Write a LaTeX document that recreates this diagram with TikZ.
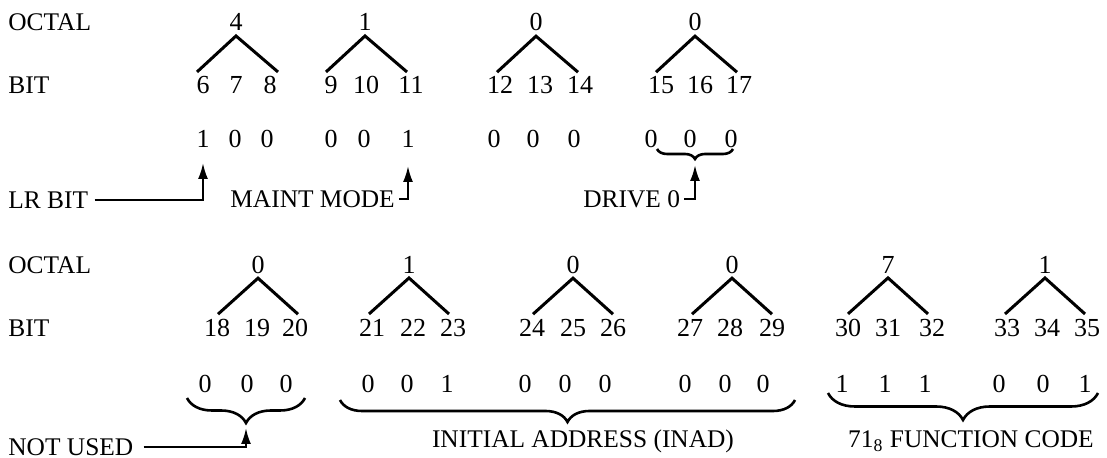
\documentclass[tikz,border=0pt]{standalone}
\usepackage{fontspec}
\setmainfont{Liberation Serif}
\usepackage{tikz}
\usetikzlibrary{arrows.meta,calc,decorations.pathreplacing}
\tikzset{
  lbl/.style={inner sep=0pt, anchor=west, font=\fontsize{12.7}{15}\selectfont},
  dig/.style={inner sep=0pt, font=\fontsize{13}{15}\selectfont},
  tree/.style={line width=1.5pt},
  arr/.style={-{Latex[length=8pt,width=5pt]}, line width=1.1pt},
  brc/.style={decorate, decoration={brace, mirror, amplitude=#1}, line width=1.3pt},
}

\begin{document}
\begin{tikzpicture}[x=0.5pt, y=-0.5pt]
  \useasboundingbox (0,0) rectangle (1107,458);
  % row 1: bits 6-17
  \node[lbl] (oct1) at (8,22) {OCTAL};
  \node[lbl] (bit1) at (8,85) {BIT};
  \node[dig] (o1) at (236,22) {4}; \node[dig] (o2) at (365,22) {1}; \node[dig] (o3) at (536,22) {0}; \node[dig] (o4) at (695,22) {0};
  \node[dig] (b6) at (203,85) {6}; \node[dig] (b7) at (236,85) {7}; \node[dig] (b8) at (270,85) {8};
  \node[dig] (b9) at (331,85) {9}; \node[dig] (b10) at (366,85) {10}; \node[dig] (b11) at (411,85) {11};
  \node[dig] (b12) at (500,85) {12}; \node[dig] (b13) at (540,85) {13}; \node[dig] (b14) at (580,85) {14};
  \node[dig] (b15) at (661,85) {15}; \node[dig] (b16) at (700,85) {16}; \node[dig] (b17) at (739,85) {17};
  \node[dig] (v6) at (203,139) {1}; \node[dig] (v7) at (235,139) {0}; \node[dig] (v8) at (267,139) {0};
  \node[dig] (v9) at (331,139) {0}; \node[dig] (v10) at (364,139) {0}; \node[dig] (v11) at (408,139) {1};
  \node[dig] (v12) at (494,139) {0}; \node[dig] (v13) at (533,139) {0}; \node[dig] (v14) at (574,139) {0};
  \node[dig] (v15) at (651,139) {0}; \node[dig] (v16) at (690,139) {0}; \node[dig] (v17) at (731,139) {0};
  \foreach \o in {o1,o2,o3,o4}
    \draw[tree] ($(\o.south)+(-39,41)$) -- ($(\o.south)+(0,5)$) -- ($(\o.south)+(42,41)$);
  \node[lbl] (lrbit) at (8,200) {LR BIT};
  \node[lbl] (maint) at (230,199) {MAINT MODE};
  \node[lbl] (drive) at (583,199) {DRIVE 0};
  \draw[brc=5pt] (657,149) -- (733,149);
  \coordinate (drvtip) at (695,159);
  \draw[arr, shorten >=7.5pt] ([xshift=3pt]lrbit.east) -| (v6.south);
  \draw[arr, shorten >=9pt] ([xshift=2pt]maint.east) -| (v11.south);
  \draw[arr, shorten >=3pt] ([xshift=2pt]drive.east) -| (drvtip);
  % row 2: bits 18-35
  \node[lbl] (oct2) at (8,265) {OCTAL};
  \node[lbl] (bit2) at (8,328) {BIT};
  \node[dig] (o5) at (258,265) {0}; \node[dig] (o6) at (409,265) {1}; \node[dig] (o7) at (573,265) {0};
  \node[dig] (o8) at (732,265) {0}; \node[dig] (o9) at (888,265) {7}; \node[dig] (o10) at (1045,265) {1};
  \node[dig] (b18) at (217,328) {18}; \node[dig] (b19) at (257,328) {19}; \node[dig] (b20) at (295,328) {20};
  \node[dig] (b21) at (372,328) {21}; \node[dig] (b22) at (413,328) {22}; \node[dig] (b23) at (453,328) {23};
  \node[dig] (b24) at (532,328) {24}; \node[dig] (b25) at (573,328) {25}; \node[dig] (b26) at (613,328) {26};
  \node[dig] (b27) at (690,328) {27}; \node[dig] (b28) at (730,328) {28}; \node[dig] (b29) at (772,328) {29};
  \node[dig] (b30) at (848,328) {30}; \node[dig] (b31) at (888,328) {31}; \node[dig] (b32) at (932,328) {32};
  \node[dig] (b33) at (1007,328) {33}; \node[dig] (b34) at (1047,328) {34}; \node[dig] (b35) at (1087,328) {35};
  \node[dig] (v18) at (205,384) {0}; \node[dig] (v19) at (247,384) {0}; \node[dig] (v20) at (286,384) {0};
  \node[dig] (v21) at (368,384) {0}; \node[dig] (v22) at (407,384) {0}; \node[dig] (v23) at (447,384) {1};
  \node[dig] (v24) at (525,384) {0}; \node[dig] (v25) at (565,384) {0}; \node[dig] (v26) at (605,384) {0};
  \node[dig] (v27) at (685,384) {0}; \node[dig] (v28) at (725,384) {0}; \node[dig] (v29) at (763,384) {0};
  \node[dig] (v30) at (842,384) {1}; \node[dig] (v31) at (885,384) {1}; \node[dig] (v32) at (925,384) {1};
  \node[dig] (v33) at (999,384) {0}; \node[dig] (v34) at (1043,384) {0}; \node[dig] (v35) at (1085,384) {1};
  \foreach \o in {o5,o6,o7,o8,o9,o10}
    \draw[tree] ($(\o.south)+(-40,40)$) -- ($(\o.south)+(0,4)$) -- ($(\o.south)+(40,40)$);
  \draw[brc=12.5pt] (187,398) -- (305,398);
  \draw[brc=11pt] (340,400) -- (795,400);
  \draw[brc=13.5pt] (828,393) -- (1098,393);
  \coordinate (nutip) at (246,423);
  \node[lbl] (nused) at (8,447) {NOT USED};
  \node[lbl, anchor=center] (inad) at (583,441) {INITIAL ADDRESS (INAD)};
  \node[lbl, anchor=center] (fcode) at (971,441) {71\textsubscript{8} FUNCTION CODE};
  \draw[arr, shorten >=2.5pt] ([xshift=5pt]nused.east) -| (nutip);
\end{tikzpicture}
\end{document}
